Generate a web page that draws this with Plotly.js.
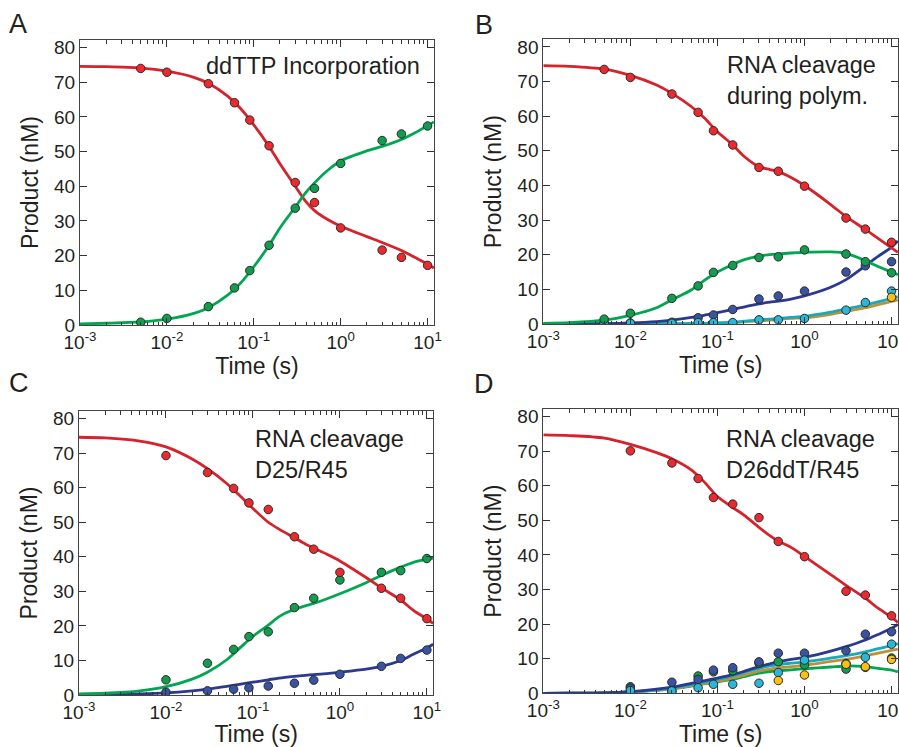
<!DOCTYPE html>
<html><head><meta charset="utf-8">
<script src="https://cdn.plot.ly/plotly-3.0.1.min.js"></script>
<style>html,body{margin:0;padding:0;background:#fff}#chart{width:899px;height:747px}</style>
</head><body><div id="chart"></div>
<script>
// ---- time values ----
const tPtsAB = [0.005, 0.01, 0.03, 0.06, 0.09, 0.15, 0.3, 0.5, 1, 3, 5, 10];
const tPtsCD = [0.01, 0.03, 0.06, 0.09, 0.15, 0.3, 0.5, 1, 3, 5, 10];
const tFit = [0.001, 0.002, 0.005, 0.01, 0.02, 0.03, 0.05, 0.07, 0.1, 0.15, 0.2, 0.3, 0.4, 0.5, 0.7, 1, 2, 3, 5, 7, 10, 11.8];

// ---- Panel A: ddTTP Incorporation ----
const A_redPts   = [74.0, 72.9, 69.6, 64.1, 59.1, 51.7, 41.1, 35.3, 28.0, 21.6, 19.5, 17.2];
const A_greenPts = [0.8, 1.9, 5.3, 10.7, 15.7, 23.0, 33.7, 39.4, 46.6, 53.2, 55.1, 57.4];
const A_redFit   = [74.6, 74.5, 74.1, 73.2, 71.5, 69.7, 66.0, 62.5, 57.7, 51.5, 46.5, 40.0, 35.5, 33.0, 30.5, 28.5, 25.5, 23.8, 21.5, 19.6, 17.6, 16.4];
const A_greenFit = [0.3, 0.5, 0.9, 1.7, 3.3, 5.0, 8.6, 12.0, 16.8, 23.0, 28.0, 34.0, 38.3, 41.0, 44.5, 47.3, 50.2, 51.5, 53.5, 55.3, 57.5, 58.6];

// ---- Panel B: RNA cleavage during polym. ----
const B_redPts    = [73.5, 71.2, 66.4, 61.1, 55.8, 51.7, 45.2, 44.1, 39.8, 30.6, 27.4, 23.6];
const B_greenPts  = [1.4, 3.1, 7.4, 11.0, 14.9, 16.9, 19.2, 19.4, 21.4, 20.2, 18.0, 14.8];
const B_bluePts   = [0.2, 0.3, 0.5, 1.8, 2.6, 4.2, 7.2, 8.1, 9.5, 15.0, 16.8, 18.0];
const B_cyanPts   = [0.2, 0.2, 0.2, 0.4, 0.4, 0.4, 1.2, 1.2, 1.6, 4.0, 6.2, 9.5];
const B_yellowPts = [null, null, null, null, null, null, null, null, null, null, null, 7.7];
const B_redFit    = [74.6, 74.4, 73.6, 71.8, 69.0, 66.6, 62.8, 59.6, 55.5, 51.7, 48.5, 45.4, 44.6, 44.0, 42.3, 40.0, 34.5, 31.0, 27.3, 24.7, 22.0, 20.7];
const B_greenFit  = [0.2, 0.4, 1.1, 2.5, 4.7, 7.0, 9.8, 12.5, 15.0, 17.2, 18.5, 19.6, 20.0, 20.2, 20.5, 20.7, 20.8, 20.4, 18.3, 16.6, 15.0, 14.2];
const B_blueFit   = [0.0, 0.03, 0.1, 0.3, 0.7, 1.1, 1.9, 2.5, 3.3, 4.2, 4.9, 5.8, 6.3, 6.6, 7.2, 8.1, 10.6, 12.8, 16.8, 19.5, 22.2, 24.0];
const B_cyanFit   = [0.0, 0.0, 0.02, 0.05, 0.08, 0.1, 0.15, 0.2, 0.3, 0.5, 0.8, 1.2, 1.4, 1.6, 1.9, 2.2, 3.4, 4.3, 5.5, 6.4, 7.3, 7.9];
const B_tanFit    = [0.0, 0.0, 0.02, 0.04, 0.06, 0.08, 0.12, 0.16, 0.25, 0.4, 0.6, 0.9, 1.1, 1.3, 1.6, 1.8, 2.8, 3.6, 4.7, 5.6, 6.5, 7.0];

// ---- Panel C: RNA cleavage D25/R45 ----
const C_redPts   = [69.3, 64.4, 59.8, 55.6, 53.7, 45.8, 42.2, 35.5, 30.9, 28.0, 22.1];
const C_greenPts = [4.4, 9.2, 13.2, 16.9, 18.3, 25.3, 28.0, 33.3, 35.5, 36.0, 39.5];
const C_bluePts  = [0.8, 1.2, 1.7, 2.1, 2.6, 3.4, 4.3, 6.0, 8.3, 10.6, 13.0];
const C_redFit   = [74.6, 74.4, 73.5, 71.8, 68.3, 65.5, 61.2, 57.8, 54.0, 50.0, 48.0, 45.5, 43.7, 42.5, 40.8, 38.8, 34.0, 31.0, 27.5, 24.5, 22.0, 20.7];
const C_greenFit = [0.3, 0.5, 1.2, 2.4, 4.6, 6.6, 10.2, 13.5, 17.0, 20.2, 22.7, 24.8, 25.8, 26.5, 27.8, 29.3, 32.5, 34.6, 37.0, 38.4, 39.3, 39.6];
const C_blueFit  = [0.0, 0.1, 0.3, 0.6, 1.2, 1.7, 2.5, 3.1, 3.7, 4.4, 4.9, 5.4, 5.7, 5.9, 6.2, 6.6, 7.5, 8.3, 10.0, 11.8, 13.6, 14.7];

// ---- Panel D: RNA cleavage D26ddT/R45 ----
const D_redPts    = [70.1, 66.6, 62.1, 56.6, 54.7, 50.8, 43.9, 39.5, 29.5, 28.4, 22.4];
const D_greenPts  = [1.9, 0.5, 5.0, 6.2, 6.5, 8.7, 9.1, 8.2, 7.0, 7.5, 10.2];
const D_bluePts   = [1.5, 3.2, 4.0, 6.7, 7.4, 9.1, 11.6, 11.6, 12.3, 17.1, 17.8];
const D_cyanPts   = [0.8, 0.7, 1.6, 2.6, 2.6, 2.9, 6.0, 9.6, 8.6, 10.4, 14.2];
const D_yellowPts = [null, null, null, null, null, null, 3.7, 5.3, 8.4, 7.7, 9.8];
const D_redFit    = [74.7, 74.5, 73.8, 72.0, 69.6, 67.8, 64.6, 61.2, 56.9, 53.7, 51.6, 48.0, 45.6, 44.0, 42.2, 39.6, 34.3, 31.2, 27.5, 24.6, 22.0, 20.5];
const D_blueFit   = [0.0, 0.02, 0.15, 0.5, 1.2, 1.8, 2.9, 3.6, 4.4, 5.4, 6.3, 7.7, 8.5, 9.1, 9.8, 10.4, 12.2, 13.5, 15.4, 17.0, 18.8, 19.9];
const D_cyanFit   = [0.0, 0.02, 0.12, 0.4, 1.0, 1.5, 2.5, 3.2, 4.0, 5.1, 6.0, 7.2, 7.9, 8.3, 8.7, 9.1, 10.2, 10.9, 12.0, 12.9, 13.8, 14.4];
const D_tanFit    = [0.0, 0.02, 0.1, 0.35, 0.9, 1.3, 2.2, 2.8, 3.5, 4.4, 5.2, 6.4, 7.0, 7.4, 7.7, 8.1, 9.2, 9.8, 10.8, 11.6, 12.4, 12.8];
const D_greenFit  = [0.0, 0.02, 0.1, 0.35, 0.9, 1.3, 2.1, 2.7, 3.3, 4.1, 4.8, 5.8, 6.3, 6.5, 6.8, 7.1, 7.6, 7.9, 7.7, 7.2, 6.7, 6.2];

// ---- axis ticks and texts ----
const xTickVals = [0.001, 0.01, 0.1, 1, 10];
const xTickText = ['10<sup>-3</sup>', '10<sup>-2</sup>', '10<sup>-1</sup>', '10<sup>0</sup>', '10<sup>1</sup>'];
const yTickVals = [0, 10, 20, 30, 40, 50, 60, 70, 80];
const panelTitles = ['ddTTP Incorporation', 'RNA cleavage<br>during polym.', 'RNA cleavage<br>D25/R45', 'RNA cleavage<br>D26ddT/R45'];
const panelLetters = ['A', 'B', 'C', 'D'];

const LINE = {red:'#d6222a', green:'#00a650', blue:'#2b3990', cyan:'#17a9bd', tan:'#bf9038'};
const MARK = {red:'#ea2a2f', green:'#119c4e', blue:'#3a52a2', cyan:'#2bb6d8', yellow:'#fcbf14'};
const FONT = '"Liberation Sans", Arial, Helvetica, sans-serif';

const minorVals = [];
[0.001, 0.01, 0.1, 1, 10].forEach(d => { for (let k = 2; k <= 9; k++) minorVals.push(d * k); });

function fit(t, y, c, n) {
  return {x: t, y: y, type: 'scatter', mode: 'lines', line: {color: c, width: 2.8, shape: 'spline', smoothing: 0.8},
          xaxis: 'x' + n, yaxis: 'y' + n, hoverinfo: 'skip', showlegend: false};
}
function pts(t, y, c, n) {
  return {x: t, y: y, type: 'scatter', mode: 'markers', marker: {color: c, size: 8.5, line: {color: '#2a2a2a', width: 1}},
          xaxis: 'x' + n, yaxis: 'y' + n, showlegend: false};
}

const data = [
  fit(tFit, A_redFit, LINE.red, ''), fit(tFit, A_greenFit, LINE.green, ''),
  pts(tPtsAB, A_redPts, MARK.red, ''), pts(tPtsAB, A_greenPts, MARK.green, ''),

  fit(tFit, B_tanFit, LINE.tan, '2'), fit(tFit, B_cyanFit, LINE.cyan, '2'), fit(tFit, B_blueFit, LINE.blue, '2'),
  fit(tFit, B_greenFit, LINE.green, '2'), fit(tFit, B_redFit, LINE.red, '2'),
  pts(tPtsAB, B_bluePts, MARK.blue, '2'), pts(tPtsAB, B_cyanPts, MARK.cyan, '2'), pts(tPtsAB, B_yellowPts, MARK.yellow, '2'),
  pts(tPtsAB, B_greenPts, MARK.green, '2'), pts(tPtsAB, B_redPts, MARK.red, '2'),

  fit(tFit, C_blueFit, LINE.blue, '3'), fit(tFit, C_greenFit, LINE.green, '3'), fit(tFit, C_redFit, LINE.red, '3'),
  pts(tPtsCD, C_bluePts, MARK.blue, '3'), pts(tPtsCD, C_greenPts, MARK.green, '3'), pts(tPtsCD, C_redPts, MARK.red, '3'),

  fit(tFit, D_greenFit, LINE.green, '4'), fit(tFit, D_tanFit, LINE.tan, '4'), fit(tFit, D_cyanFit, LINE.cyan, '4'),
  fit(tFit, D_blueFit, LINE.blue, '4'), fit(tFit, D_redFit, LINE.red, '4'),
  pts(tPtsCD, D_greenPts, MARK.green, '4'), pts(tPtsCD, D_bluePts, MARK.blue, '4'), pts(tPtsCD, D_cyanPts, MARK.cyan, '4'),
  pts(tPtsCD, D_yellowPts, MARK.yellow, '4'), pts(tPtsCD, D_redPts, MARK.red, '4')
];

const W = 899, H = 747;
// plot boxes in pixels: [left, right, top, bottom]
const boxes = [[80, 434, 40, 325], [543.3, 898, 39.3, 324], [79, 433.3, 411, 695], [543.3, 898, 409, 693.3]];

function xAxis(b, n) {
  return {domain: [b[0] / W, b[1] / W], anchor: 'y' + n, type: 'log', range: [-3, 1.074],
    tickmode: 'array', tickvals: xTickVals, ticktext: xTickText, ticklabeloverflow: 'allow',
    ticks: 'inside', ticklen: 7, tickwidth: 1, tickcolor: '#333',
    showline: true, linecolor: '#444', linewidth: 1, mirror: 'allticks',
    showgrid: false, zeroline: false,
    tickfont: {family: FONT, size: 19, color: '#231f20'},
    minor: {tickmode: 'array', tickvals: minorVals, ticks: 'inside', ticklen: 3.5, tickwidth: 1, tickcolor: '#333', showgrid: false},
    title: {text: 'Time (s)', font: {family: FONT, size: 23, color: '#231f20'}, standoff: 2}};
}
function yAxis(b, n) {
  return {domain: [1 - b[3] / H, 1 - b[2] / H], anchor: 'x' + n, range: [0, 82.2],
    tickmode: 'array', tickvals: yTickVals,
    ticks: 'inside', ticklen: 7, tickwidth: 1, tickcolor: '#333',
    showline: true, linecolor: '#444', linewidth: 1, mirror: 'allticks',
    showgrid: false, zeroline: false,
    tickfont: {family: FONT, size: 19, color: '#231f20'},
    title: {text: 'Product (nM)', font: {family: FONT, size: 23, color: '#231f20'}, standoff: 9}};
}

const layout = {width: W, height: H, margin: {l: 0, r: 0, t: 0, b: 0}, paper_bgcolor: '#fff', plot_bgcolor: '#fff',
  showlegend: false, font: {family: FONT, color: '#231f20'}, annotations: []};
['', '2', '3', '4'].forEach((n, i) => {
  layout['xaxis' + n] = xAxis(boxes[i], n);
  layout['yaxis' + n] = yAxis(boxes[i], n);
});

const letterPos = [[18, 24.5], [484, 24.7], [19, 383.3], [484, 384]];
letterPos.forEach((p, i) => layout.annotations.push({text: panelLetters[i], xref: 'paper', yref: 'paper',
  x: p[0] / W, y: 1 - p[1] / H, xanchor: 'center', yanchor: 'middle', showarrow: false,
  font: {family: FONT, size: 27, color: '#231f20'}}));

const titlePos = [[421.7, 66, 'right'], [725, 80.8, 'left'], [252.7, 454.8, 'left'], [724, 454.8, 'left']];
titlePos.forEach((p, i) => layout.annotations.push({text: panelTitles[i], xref: 'paper', yref: 'paper',
  x: p[0] / W, y: 1 - p[1] / H, xanchor: p[2], yanchor: 'middle', align: 'left', showarrow: false,
  font: {family: FONT, size: 23.5, color: '#231f20'}}));

Plotly.newPlot('chart', data, layout, {displayModeBar: false, staticPlot: true});
</script>
</body></html>
